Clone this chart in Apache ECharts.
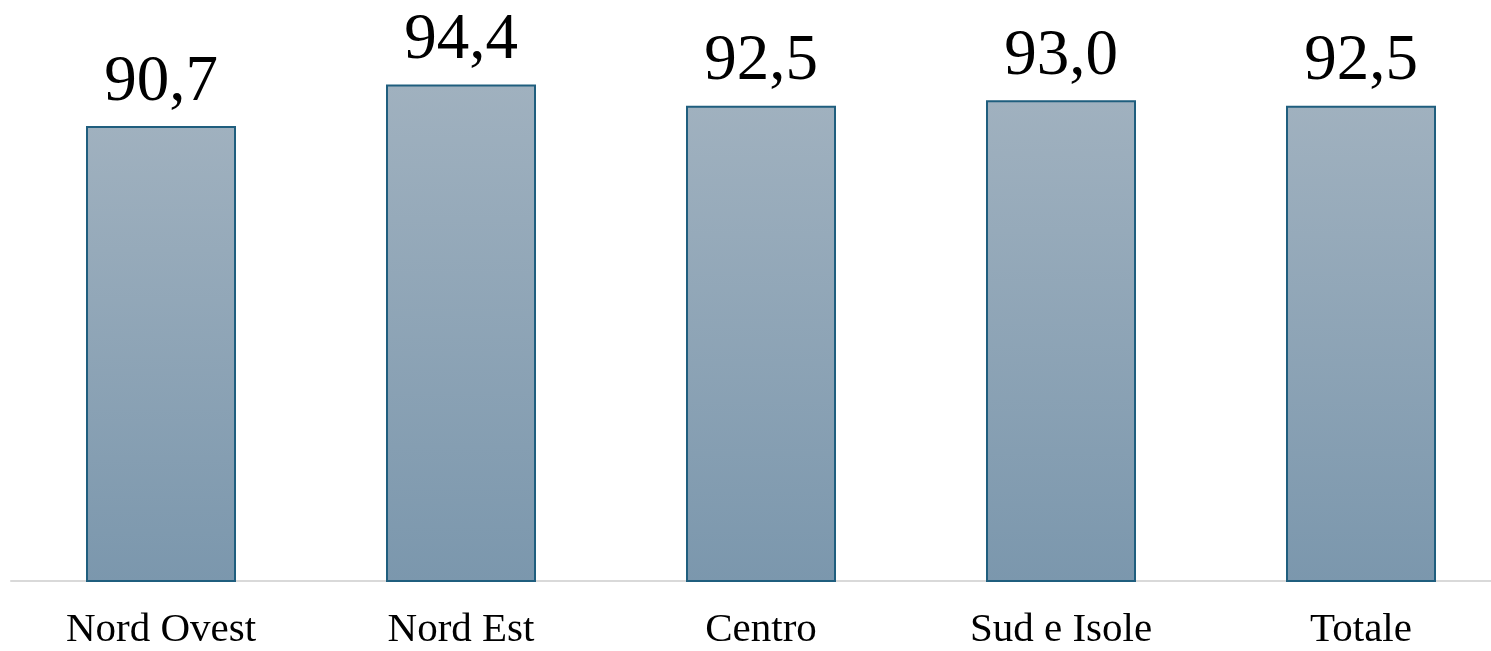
<!DOCTYPE html>
<html>
<head>
<meta charset="utf-8">
<script src="https://cdn.jsdelivr.net/npm/echarts@6/dist/echarts.min.js"></script>
<style>
html,body{margin:0;padding:0;background:#fff;overflow:hidden;}
#c{width:1511px;height:651px;}
</style>
</head>
<body>
<div id="c"></div>
<script>
const categories = ['Nord Ovest', 'Nord Est', 'Centro', 'Sud e Isole', 'Totale'];
const values = [90.7, 94.4, 92.5, 93.0, 92.5];

const chart = echarts.init(document.getElementById('c'));
chart.setOption({
  animation: false,
  backgroundColor: '#ffffff',
  grid: { left: 11, right: 0, top: 22, bottom: 67, containLabel: false },
  xAxis: {
    type: 'category',
    data: categories,
    axisLine: { lineStyle: { color: '#d9d9d9', width: 2 } },
    axisTick: { show: false },
    axisLabel: {
      fontFamily: '"Liberation Serif", "Times New Roman", serif',
      fontSize: 41,
      color: '#000',
      margin: 29
    }
  },
  yAxis: {
    type: 'value',
    min: 50,
    max: 100,
    show: false,
    splitLine: { show: false }
  },
  series: [{
    type: 'bar',
    data: values,
    barWidth: 150,
    itemStyle: {
      color: {
        type: 'linear', x: 0, y: 0, x2: 0, y2: 1,
        colorStops: [
          { offset: 0, color: '#a0b1bf' },
          { offset: 1, color: '#7b97ad' }
        ]
      },
      borderColor: '#1f5e7e',
      borderWidth: 2
    },
    label: {
      show: true,
      position: 'top',
      distance: 11,
      fontFamily: '"Liberation Serif", "Times New Roman", serif',
      fontSize: 65,
      color: '#000',
      formatter: p => p.value.toFixed(1).replace('.', ',')
    }
  }]
});
</script>
</body>
</html>
